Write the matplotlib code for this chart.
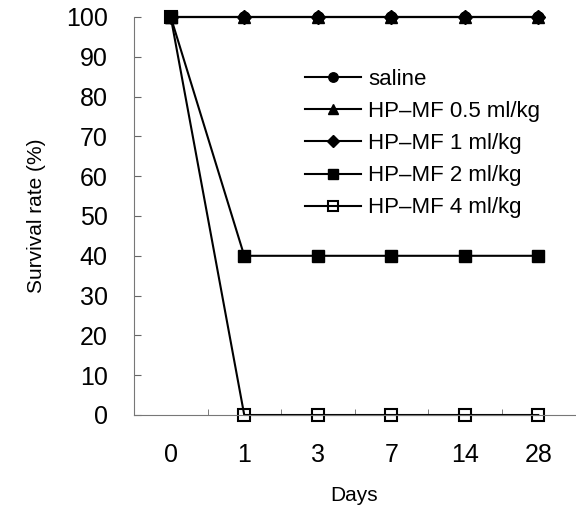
import matplotlib
matplotlib.use('Agg')
import matplotlib.pyplot as plt

plt.rcParams['font.family'] = ['Liberation Sans', 'DejaVu Sans']

# データ
days = ['0', '1', '3', '7', '14', '28']
saline = [100, 100, 100, 100, 100, 100]
hp_05 = [100, 100, 100, 100, 100, 100]
hp_1 = [100, 100, 100, 100, 100, 100]
hp_2 = [100, 40, 40, 40, 40, 40]
hp_4 = [100, 0, 0, 0, 0, 0]
yticks = list(range(0, 101, 10))

fig = plt.figure(figsize=(5.76, 5.08), dpi=100)
ax = fig.add_axes([134/576, 1-415/508, 441/576, 398/508])

x = list(range(len(days)))
kw = dict(color='black', lw=1.5, clip_on=False)
ax.plot(x, saline, marker='o', markersize=8, label='saline', **kw)
ax.plot(x, hp_05, marker='^', markersize=8, label='HP\u2013MF 0.5 ml/kg', **kw)
ax.plot(x, hp_1, marker='D', markersize=7, label='HP\u2013MF 1 ml/kg', **kw)
ax.plot(x, hp_2, marker='s', markersize=8, label='HP\u2013MF 2 ml/kg', **kw)
ax.plot(x, hp_4, marker='s', markersize=8, markerfacecolor='none', markeredgewidth=1.5,
        label='HP\u2013MF 4 ml/kg', **kw)

ax.set_xlim(-0.5, 5.5)
ax.set_ylim(0, 100)
ax.set_xticks(x)
ax.set_xticklabels(days)
ax.set_xticks([i + 0.5 for i in range(5)], minor=True)
ax.set_yticks(yticks)
ax.tick_params(axis='x', which='major', length=0, pad=20, labelsize=18)
ax.tick_params(axis='x', which='minor', direction='in', length=4, color='#666')
ax.tick_params(axis='y', direction='in', length=5, pad=19, labelsize=18, color='#666')

for s in ['top', 'right']:
    ax.spines[s].set_visible(False)
for s in ['left', 'bottom']:
    ax.spines[s].set_color('#777')
    ax.spines[s].set_linewidth(0.8)

ax.set_xlabel('Days', fontsize=15, labelpad=14)
ax.set_ylabel('Survival rate (%)', fontsize=15, labelpad=14)

leg = ax.legend(loc='upper left', bbox_to_anchor=(305/576, 1-69/508),
                bbox_transform=fig.transFigure, frameon=False, fontsize=16,
                borderpad=0, borderaxespad=0, handlelength=2.5,
                handletextpad=0.35, labelspacing=0.5, markerscale=0.85)

fig.savefig('out.png', dpi=100)
